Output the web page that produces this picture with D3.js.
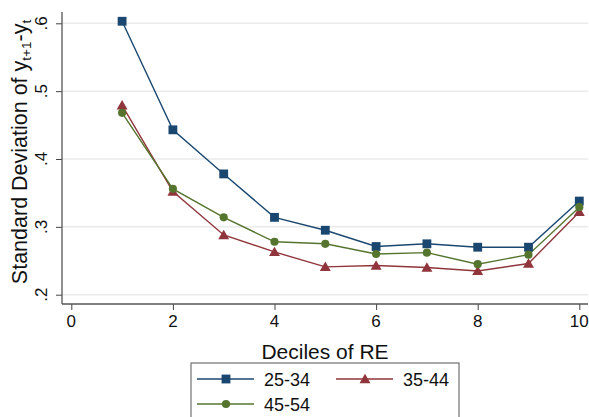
<!DOCTYPE html>
<html><head><meta charset="utf-8">
<script src="https://cdn.jsdelivr.net/npm/d3@7"></script>
<style>body{margin:0;background:#fff}svg{display:block;font-family:"Liberation Sans",Arial,sans-serif}</style>
</head><body><svg id="c" width="589" height="417"></svg>
<script>
const deciles = [1,2,3,4,5,6,7,8,9,10];
const s2534 = [0.603,0.443,0.378,0.314,0.295,0.271,0.275,0.270,0.270,0.338];
const s3544 = [0.479,0.352,0.288,0.263,0.241,0.243,0.240,0.235,0.246,0.322];
const s4554 = [0.468,0.356,0.314,0.278,0.275,0.260,0.262,0.245,0.259,0.329];
const seriesNames = ["25-34","35-44","45-54"];
const xTicks = [0,2,4,6,8,10];
const yTicks = [0.2,0.3,0.4,0.5,0.6];
const yTickLabels = [".2",".3",".4",".5",".6"];

const colors = ["#1a476f","#90353b","#55752f"];
const symbols = [d3.symbolSquare, d3.symbolTriangle, d3.symbolCircle];
const symSizes = [78, 52, 52];
const series = [s2534, s3544, s4554];

const svg = d3.select("#c");
const x = d3.scaleLinear().domain([0,10]).range([71.3,579.3]);
const y = d3.scaleLinear().domain([0.2,0.6]).range([294.7,23.3]);
const pL = 62, pR = 588, pT = 12, pB = 304;

// grid
svg.append("g").selectAll("line").data(yTicks).join("line")
  .attr("x1",pL).attr("x2",pR).attr("y1",d=>y(d)).attr("y2",d=>y(d))
  .attr("stroke","#eaeaea").attr("stroke-width",1.5);

// y axis
const yAxis = svg.append("g").attr("transform",`translate(${pL},0)`)
  .call(d3.axisLeft(y).tickValues(yTicks).tickSize(6).tickFormat(""));
yAxis.select(".domain").remove();
yAxis.selectAll(".tick line").attr("stroke","#444").attr("stroke-width",1);
svg.append("line").attr("x1",pL).attr("x2",pL).attr("y1",pT).attr("y2",pB)
  .attr("stroke","#555").attr("stroke-width",1.3);
svg.append("g").selectAll("text").data(yTicks).join("text")
  .attr("transform",(d)=>`translate(47,${y(d)}) rotate(-90)`)
  .attr("text-anchor","middle").attr("font-size",17).attr("fill","#111")
  .text((d,i)=>yTickLabels[i]);

// x axis
const xAxis = svg.append("g").attr("transform",`translate(0,${pB})`)
  .call(d3.axisBottom(x).tickValues(xTicks).tickSize(6).tickFormat(""));
xAxis.select(".domain").remove();
xAxis.selectAll(".tick line").attr("stroke","#444").attr("stroke-width",1);
svg.append("line").attr("x1",pL).attr("x2",pR).attr("y1",pB).attr("y2",pB)
  .attr("stroke","#555").attr("stroke-width",1.3);
svg.append("g").selectAll("text").data(xTicks).join("text")
  .attr("x",d=>x(d)).attr("y",327).attr("text-anchor","middle")
  .attr("font-size",17).attr("fill","#111").text(d=>d);

// axis titles
svg.append("text").attr("x",325).attr("y",359).attr("text-anchor","middle")
  .attr("font-size",21).attr("fill","#111").text("Deciles of RE");
const yt = svg.append("text").attr("transform","translate(27,152) rotate(-90)")
  .attr("text-anchor","middle").attr("font-size",21.5).attr("fill","#111");
yt.append("tspan").text("Standard Deviation of y");
yt.append("tspan").attr("font-size",13.5).attr("dy",4).text("t+1");
yt.append("tspan").attr("dy",-4).text("-y");
yt.append("tspan").attr("font-size",13.5).attr("dy",4).text("t");

// series
const line = d3.line().x((d,i)=>x(deciles[i])).y(d=>y(d));
series.forEach((s,k)=>{
  svg.append("path").datum(s).attr("d",line).attr("fill","none")
    .attr("stroke",colors[k]).attr("stroke-width",1.4);
});
series.forEach((s,k)=>{
  svg.append("g").selectAll("path").data(s).join("path")
    .attr("transform",(d,i)=>`translate(${x(deciles[i])},${y(d) + (k===1?1:0)})`)
    .attr("d",d3.symbol().type(symbols[k]).size(symSizes[k]))
    .attr("fill",colors[k]);
});

// legend
svg.append("rect").attr("x",191).attr("y",363).attr("width",268).attr("height",70)
  .attr("fill","#fff").attr("stroke","#555").attr("stroke-width",1);
const legPos = [[197,379],[336,379],[197,404]];
seriesNames.forEach((n,k)=>{
  const [lx,ly] = legPos[k];
  svg.append("line").attr("x1",lx).attr("x2",lx+57).attr("y1",ly).attr("y2",ly)
    .attr("stroke",colors[k]).attr("stroke-width",1.4);
  svg.append("path").attr("transform",`translate(${lx+29},${ly + (k===1?1:0)})`)
    .attr("d",d3.symbol().type(symbols[k]).size(symSizes[k])).attr("fill",colors[k]);
  svg.append("text").attr("x",lx+67).attr("y",ly+6.5).attr("font-size",18)
    .attr("fill","#111").text(n);
});
</script></body></html>
